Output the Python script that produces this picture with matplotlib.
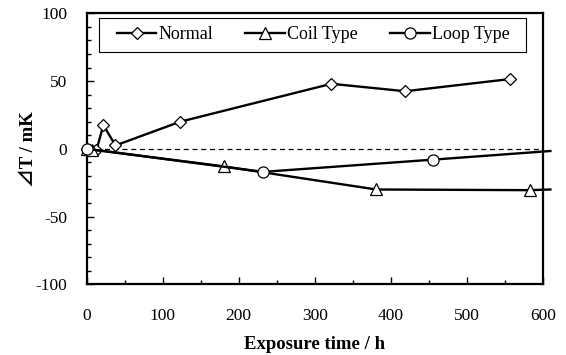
import numpy as np
import matplotlib
matplotlib.use("Agg")
import matplotlib.pyplot as plt
from matplotlib.ticker import MultipleLocator
from matplotlib.patches import Rectangle

plt.rcParams['font.family'] = ['Liberation Serif', 'Noto Sans CJK JP', 'DejaVu Sans']
plt.rcParams['axes.unicode_minus'] = False

# data (h, mK)
normal_t = [0, 13, 22, 38, 123, 322, 419, 557]
normal_dT = [0, -1, 17.5, 2.5, 20, 48, 42.5, 51.5]

coil_t = [0, 7, 181, 381, 583, 610]
coil_dT = [0, -0.5, -13, -30, -30.5, -30]

loop_t = [0, 232, 455, 610]
loop_dT = [0, -17, -8, -1.6]

fig = plt.figure(figsize=(5.66, 3.55), dpi=100)
ax = fig.add_axes([0.153, 0.199, 0.806, 0.7635])

mk = dict(color='black', lw=1.7, markerfacecolor='white', markeredgecolor='black',
          markeredgewidth=0.9, clip_on=False, zorder=3)

ax.plot(normal_t, normal_dT, marker='D', ms=6.5, label='Normal', **mk)
# last point of coil / loop lies past the axis end, no marker there
ax.plot(coil_t, coil_dT, marker='^', ms=9, markevery=list(range(len(coil_t) - 1)),
        label='Coil Type', **mk)
ax.plot(loop_t, loop_dT, marker='o', ms=8, markevery=list(range(len(loop_t) - 1)),
        label='Loop Type', **mk)

ax.axhline(0, color='black', lw=0.9, ls=(0, (4, 3)), zorder=1)

ax.set_xlim(0, 600)
ax.set_ylim(-100, 100)
ax.xaxis.set_major_locator(MultipleLocator(100))
ax.xaxis.set_minor_locator(MultipleLocator(50))
ax.yaxis.set_major_locator(MultipleLocator(50))
ax.yaxis.set_minor_locator(MultipleLocator(10))
ax.tick_params(which='both', direction='in', width=1, labelsize=12.5, colors='black')
ax.tick_params(which='major', length=5)
ax.tick_params(which='minor', length=3)
ax.tick_params(axis='x', which='major', pad=17)
ax.tick_params(axis='y', which='major', pad=14)
for s in ax.spines.values():
    s.set_linewidth(1.6)

ax.set_xlabel('Exposure time / h', fontsize=13.5, fontweight='bold', labelpad=9)
ax.set_ylabel('⊿T / mK', fontsize=13.5, fontweight='bold', labelpad=-1)

# legend box drawn separately so the inner padding can be wider than tall
ax.add_patch(Rectangle((0.0276, 0.858), 0.935, 0.1235, transform=ax.transAxes,
                       facecolor='white', edgecolor='black', lw=0.8, zorder=4))
leg = ax.legend(loc='center left', bbox_to_anchor=(0.066, 0.92), ncol=3, frameon=False,
                fontsize=13, handlelength=2.2, handletextpad=0.1,
                borderpad=0, borderaxespad=0, columnspacing=1.8)
leg.set_zorder(5)

fig.savefig('out.png', dpi=100)
